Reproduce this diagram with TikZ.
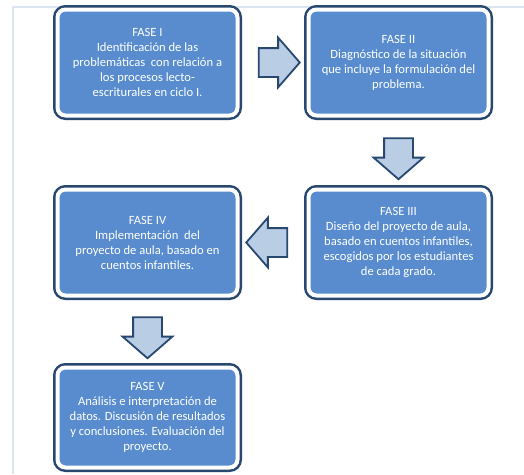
\documentclass[tikz,border=0pt]{standalone}
\usepackage{fontspec}
\setmainfont{Carlito}
\usetikzlibrary{shapes.arrows,calc}
\definecolor{faseazul}{RGB}{88,140,206}
\definecolor{borde}{RGB}{40,72,112}
\definecolor{flechaazul}{RGB}{185,205,229}
\definecolor{marco}{RGB}{219,229,241}
\tikzset{
  fase/.style={rectangle,rounded corners=8pt,fill=faseazul,draw=white,line width=4pt,
    preaction={draw=borde,line width=9pt},minimum width=180pt,minimum height=106pt,
    align=center,text=white,font=\fontsize{12.6}{15}\selectfont,inner sep=0pt},
  flecha/.style={single arrow,draw=borde,fill=flechaazul,line width=1.8pt,
    minimum height=41pt,minimum width=48pt,single arrow head extend=10.5pt,
    single arrow tip angle=98,inner xsep=0pt,inner ysep=13.5pt}
}
\begin{document}
\begin{tikzpicture}[x=1pt,y=-1pt]
        \useasboundingbox (0,0) rectangle (524,474);
        %% Frame
        \draw[marco,line width=2pt] (13,474) -- (13,7) -- (524,7);
        %% Phases
        \node[fase] (f1) at (147.5,62.5) {FASE I\\Identificación de las\\problemáticas\ \ con relación a\\los procesos lecto-\\escriturales en ciclo I.};
        \node[fase] (f2) at (398.5,62.5) {FASE II\\Diagnóstico de la situación\\que incluye la formulación del\\problema.};
        \node[fase] (f3) at (398.5,242.5) {FASE III\\Diseño del proyecto de aula,\\basado en cuentos infantiles,\\escogidos por los estudiantes\\de cada grado.};
        \node[fase] (f4) at (147.5,242.5) {FASE IV\\Implementación\ \ del\\proyecto de aula, basado en\\cuentos infantiles.};
        \node[fase,minimum height=100pt] (f5) at (147.5,417.5) {FASE V\\Análisis e interpretación de\\datos. Discusión de resultados\\y conclusiones. Evaluación del\\proyecto.};
        %% Arrows
        \node[flecha] (a12) at ($(f1.east)!0.5!(f2.west)$) {};
        \node[flecha,rotate=-90] (a23) at ($(f2.south)!0.5!(f3.north)$) {};
        \node[flecha,rotate=180] (a34) at ($(f3.west)!0.5!(f4.east)$) {};
        \node[flecha,rotate=-90] (a45) at ($(f4.south)!0.5!(f5.north)$) {};
\end{tikzpicture}
\end{document}
